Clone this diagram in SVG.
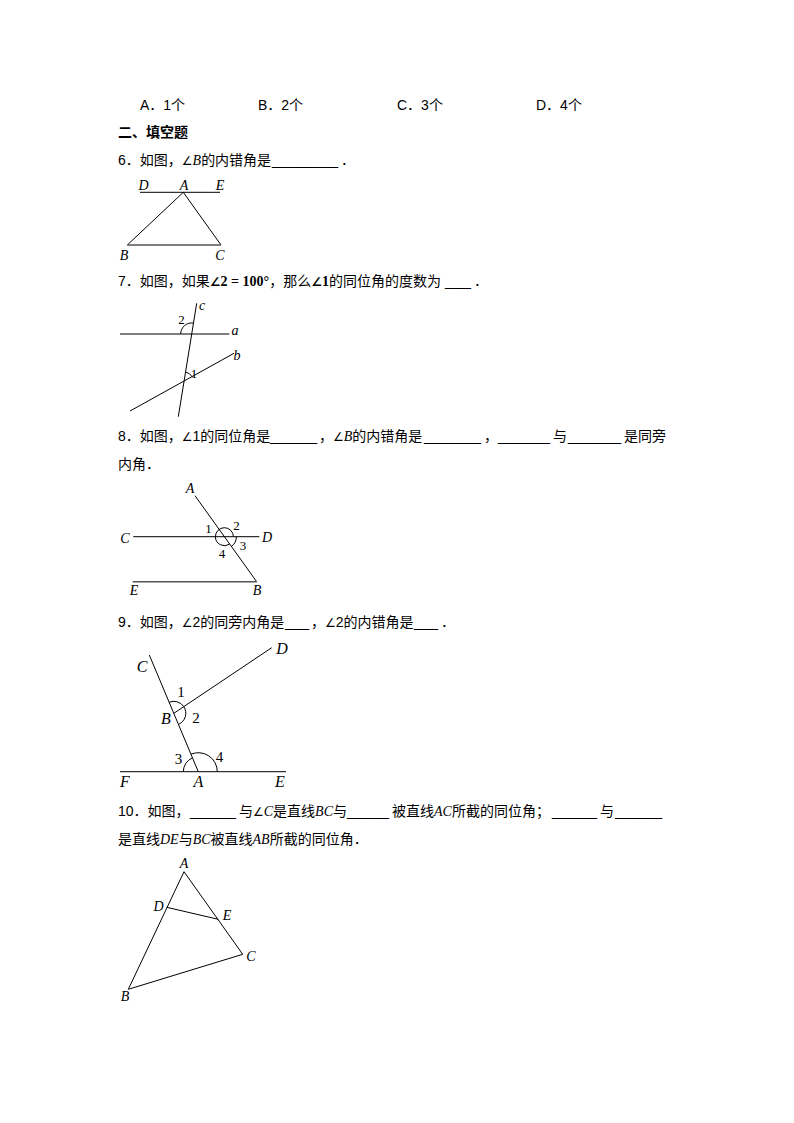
<svg xmlns="http://www.w3.org/2000/svg" width="794" height="1123" viewBox="0 0 794 1123">
<style>
.t{font-family:"Liberation Sans","Noto Sans CJK SC",sans-serif;font-size:14px;fill:#000}
.bd{font-weight:bold}
.ang{font-family:"DejaVu Sans","Noto Sans CJK SC",sans-serif;font-size:12px}
.m{font-family:"Liberation Serif","Noto Sans CJK SC",serif;font-style:italic}
.mb{font-family:"Liberation Serif","Noto Sans CJK SC",serif;font-weight:bold}
.lbl{font-family:"Liberation Serif",serif;font-style:italic;font-size:14px;text-anchor:middle;fill:#000}
.lbl2{font-family:"Liberation Serif",serif;font-style:italic;font-size:16px;text-anchor:middle;fill:#000}
.num{font-family:"Liberation Serif",serif;font-size:13px;text-anchor:middle;fill:#000}
.num2{font-family:"Liberation Serif",serif;font-size:15px;text-anchor:middle;fill:#000}
.ln{stroke:#000;stroke-width:1;fill:none}
.gl{stroke:#555;stroke-width:1.5;fill:none}
.arc{stroke:#000;stroke-width:1;fill:none}
</style>
<rect width="794" height="1123" fill="#fff"/>

<g id="options">
<text class="t" x="140" y="110">A．1个</text>
<text class="t" x="258" y="110">B．2个</text>
<text class="t" x="397" y="110">C．3个</text>
<text class="t" x="536" y="110">D．4个</text>
</g>
<text class="t bd" x="118" y="137">二、填空题</text>

<g id="q6">
<text class="t" x="118" y="165">6．如图，<tspan class="ang">∠</tspan><tspan class="m">B</tspan>的内错角是</text>
<text class="t" x="272" y="165" textLength="66" lengthAdjust="spacingAndGlyphs">________</text>
<text class="t" x="341" y="165">．</text>
<g id="q6-figure">
<line class="ln" x1="140" y1="192.3" x2="220" y2="192.3"/>
<line class="ln" x1="183.3" y1="192.3" x2="127.3" y2="245"/>
<line class="ln" x1="183.3" y1="192.3" x2="221" y2="245"/>
<line class="gl" x1="127.3" y1="245" x2="221" y2="245"/>
<text class="lbl" x="143.5" y="190">D</text>
<text class="lbl" x="184" y="190">A</text>
<text class="lbl" x="220" y="190">E</text>
<text class="lbl" x="124" y="260">B</text>
<text class="lbl" x="220" y="260">C</text>
</g>
</g>

<g id="q7">
<text class="t" x="118" y="286">7．如图，如果<tspan class="ang bd">∠</tspan><tspan class="mb">2 = 100°</tspan>，那么<tspan class="ang bd">∠</tspan><tspan class="mb">1</tspan>的同位角的度数为</text>
<text class="t" x="445" y="286" textLength="26" lengthAdjust="spacingAndGlyphs">___</text>
<text class="t" x="474" y="286">．</text>
<g id="q7-figure">
<line class="gl" x1="120" y1="334" x2="229.3" y2="334"/>
<line class="ln" x1="196.7" y1="303.3" x2="178.3" y2="416.7"/>
<line class="ln" x1="130" y1="411" x2="234" y2="353.3"/>
<path class="arc" d="M180.7,334 A11,11 0 0 1 193.5,323.1"/>
<path class="arc" d="M185.55,372.1 A9,9 0 0 1 191.97,376.64"/>
<text class="lbl" x="202" y="310">c</text>
<text class="lbl" x="235" y="335">a</text>
<text class="lbl" x="237" y="360">b</text>
<text class="num" x="181.5" y="324">2</text>
<text class="num" x="194" y="378">1</text>
</g>
</g>

<g id="q8">
<text class="t" x="118" y="441">8．如图，<tspan class="ang">∠</tspan>1的同位角是</text>
<text class="t" x="270" y="441" textLength="47" lengthAdjust="spacingAndGlyphs">______</text>
<text class="t" x="319" y="441">，<tspan class="ang">∠</tspan><tspan class="m">B</tspan>的内错角是</text>
<text class="t" x="424" y="441" textLength="57" lengthAdjust="spacingAndGlyphs">_______</text>
<text class="t" x="484" y="441">，</text>
<text class="t" x="498" y="441" textLength="52" lengthAdjust="spacingAndGlyphs">______</text>
<text class="t" x="553" y="441">与</text>
<text class="t" x="568" y="441" textLength="53" lengthAdjust="spacingAndGlyphs">______</text>
<text class="t" x="624" y="441">是同旁</text>
<text class="t" x="118" y="469">内角．</text>
<g id="q8-figure">
<line class="ln" x1="133.3" y1="536.7" x2="259.3" y2="536.7"/>
<line class="ln" x1="195" y1="495.7" x2="256.7" y2="581.7"/>
<line class="gl" x1="132.7" y1="581.7" x2="256.7" y2="581.7"/>
<path class="arc" d="M229.64,544.02 A9,9 0 0 1 215.4,536.7 A9,9 0 0 1 224.4,527.7 A9,9 0 0 1 233.4,536.7"/>
<path class="arc" d="M236.4,536.7 A12,12 0 0 1 231.38,546.46"/>
<text class="lbl" x="190" y="493">A</text>
<text class="lbl" x="125" y="543">C</text>
<text class="lbl" x="267" y="542">D</text>
<text class="lbl" x="134" y="595">E</text>
<text class="lbl" x="257" y="595">B</text>
<text class="num" x="208.5" y="533">1</text>
<text class="num" x="236.5" y="530">2</text>
<text class="num" x="243" y="550">3</text>
<text class="num" x="222" y="558">4</text>
</g>
</g>

<g id="q9">
<text class="t" x="118" y="627">9．如图，<tspan class="ang">∠</tspan>2的同旁内角是</text>
<text class="t" x="285" y="627" textLength="24" lengthAdjust="spacingAndGlyphs">___</text>
<text class="t" x="311" y="627">，<tspan class="ang">∠</tspan>2的内错角是</text>
<text class="t" x="414" y="627" textLength="24" lengthAdjust="spacingAndGlyphs">___</text>
<text class="t" x="441" y="627">．</text>
<g id="q9-figure">
<line class="ln" x1="120" y1="771.7" x2="286" y2="771.7"/>
<line class="ln" x1="149.3" y1="655" x2="198.3" y2="771.7"/>
<line class="ln" x1="173.8" y1="713.3" x2="271.7" y2="647.7"/>
<path class="arc" d="M169.15,702.24 A12,12 0 0 1 183.73,706.55"/>
<path class="arc" d="M183.73,706.55 A12,12 0 0 1 178.45,724.36"/>
<path class="arc" d="M183.3,771.7 A15,15 0 0 1 192.49,757.87"/>
<path class="arc" d="M190.94,754.18 A19,19 0 0 1 217.3,771.7"/>
<text class="lbl2" x="142" y="672">C</text>
<text class="lbl2" x="282" y="654">D</text>
<text class="lbl2" x="166" y="724">B</text>
<text class="lbl2" x="125" y="787">F</text>
<text class="lbl2" x="198.5" y="787">A</text>
<text class="lbl2" x="280" y="787">E</text>
<text class="num2" x="181" y="697">1</text>
<text class="num2" x="196" y="723">2</text>
<text class="num2" x="178.5" y="764">3</text>
<text class="num2" x="219.5" y="762">4</text>
</g>
</g>

<g id="q10">
<text class="t" x="118" y="816">10．如图，</text>
<text class="t" x="190" y="816" textLength="46" lengthAdjust="spacingAndGlyphs">_____</text>
<text class="t" x="239" y="816">与<tspan class="ang">∠</tspan><tspan class="m">C</tspan>是直线<tspan class="m">BC</tspan>与</text>
<text class="t" x="347" y="816" textLength="42" lengthAdjust="spacingAndGlyphs">_____</text>
<text class="t" x="392" y="816">被直线<tspan class="m">AC</tspan>所截的同位角；</text>
<text class="t" x="552" y="816" textLength="45" lengthAdjust="spacingAndGlyphs">_____</text>
<text class="t" x="600" y="816">与</text>
<text class="t" x="615" y="816" textLength="47" lengthAdjust="spacingAndGlyphs">______</text>
<text class="t" x="118" y="844">是直线<tspan class="m">DE</tspan>与<tspan class="m">BC</tspan>被直线<tspan class="m">AB</tspan>所截的同位角．</text>
<g id="q10-figure">
<line class="ln" x1="184" y1="871.7" x2="128.3" y2="989.3"/>
<line class="ln" x1="184" y1="871.7" x2="242.7" y2="954.3"/>
<line class="ln" x1="128.3" y1="989.3" x2="242.7" y2="954.3"/>
<line class="ln" x1="166.7" y1="907.3" x2="218.3" y2="919.3"/>
<text class="lbl" x="184" y="868">A</text>
<text class="lbl" x="158.5" y="911">D</text>
<text class="lbl" x="227" y="920">E</text>
<text class="lbl" x="251" y="961">C</text>
<text class="lbl" x="125" y="1001">B</text>
</g>
</g>
</svg>
